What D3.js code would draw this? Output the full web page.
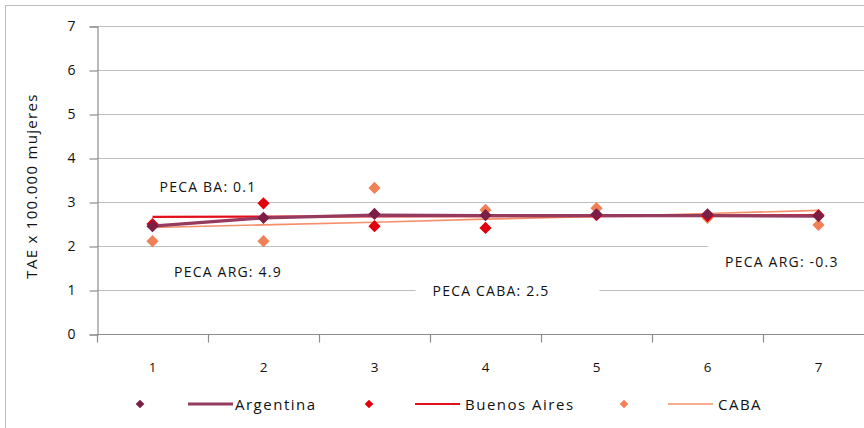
<!DOCTYPE html>
<html>
<head>
<meta charset="utf-8">
<script src="https://cdn.jsdelivr.net/npm/d3@7/dist/d3.min.js"></script>
<style>
  html, body { margin: 0; padding: 0; background: #fff; }
  svg { display: block; font-family: "Open Sans", "DejaVu Sans", sans-serif; }
</style>
</head>
<body>
<svg id="chart" width="864" height="428"></svg>
<script>
// Periods on the x axis
const periods = ["1", "2", "3", "4", "5", "6", "7"];
const yTicks = [0, 1, 2, 3, 4, 5, 6, 7];

// Observed age-standardised rates (TAE x 100.000 mujeres)
const argentinaObs = [2.45, 2.64, 2.73, 2.70, 2.72, 2.72, 2.68];
const buenosAiresObs = [2.50, 2.97, 2.45, 2.41, 2.70, 2.68, 2.70];
const cabaObs = [2.11, 2.11, 3.32, 2.82, 2.86, 2.64, 2.48];

// Fitted trend values (joinpoint)
const argentinaFit = [2.45, 2.64, 2.70, 2.69, 2.69, 2.69, 2.68];
const buenosAiresFit = [2.66, 2.67, 2.67, 2.68, 2.68, 2.69, 2.70];
const cabaFit = [2.42, 2.48, 2.54, 2.61, 2.67, 2.74, 2.81];

// Annual percent change annotations (position in category units / data units)
const pecaLabels = [
  { text: "PECA BA: 0.1", x: 1.5, y: 3.36 },
  { text: "PECA ARG: 4.9", x: 1.68, y: 1.41 },
  { text: "PECA CABA: 2.5", x: 4.05, y: 0.98, padL: 17, padR: 50 },
  { text: "PECA ARG: -0.3", x: 6.67, y: 1.64, padL: 17, padR: 80 }
];

const series = [
  { name: "Argentina", obs: argentinaObs, fit: argentinaFit, marker: "#7B1E45", line: "#963A5E", width: 3.2 },
  { name: "Buenos Aires", obs: buenosAiresObs, fit: buenosAiresFit, marker: "#E2000F", line: "#E3101A", width: 2.2 },
  { name: "CABA", obs: cabaObs, fit: cabaFit, marker: "#F08058", line: "#F3906A", width: 1.6 }
];

const svg = d3.select("#chart");

const x = d3.scaleBand().domain(periods).range([97, 874]);
const y = d3.scaleLinear().domain([0, 7]).range([334, 26]);
const cx = d => x(d) + x.bandwidth() / 2;

// outer frame
svg.append("rect")
  .attr("x", 5.5).attr("y", 5.5).attr("width", 900).attr("height", 440)
  .attr("fill", "none").attr("stroke", "#BDBDBD").attr("stroke-width", 1);

// horizontal gridlines
svg.append("g")
  .selectAll("line")
  .data(yTicks.filter(t => t > 0))
  .join("line")
  .attr("x1", 97).attr("x2", 874)
  .attr("y1", d => Math.round(y(d)) + 0.5).attr("y2", d => Math.round(y(d)) + 0.5)
  .attr("stroke", "#BFBFBF").attr("stroke-width", 1.2);

// y axis
const yAxis = svg.append("g")
  .attr("transform", "translate(97.5,0.5)")
  .call(d3.axisLeft(y).tickValues(yTicks).tickSize(8).tickPadding(14).tickFormat(d3.format("d")));
yAxis.select(".domain").attr("stroke", "#8C8C8C").attr("stroke-width", 1.2);
yAxis.selectAll(".tick line").attr("stroke", "#8C8C8C").attr("stroke-width", 1.2);
yAxis.selectAll(".tick text").attr("font-size", 14).attr("fill", "#111")
  .attr("font-family", "'Open Sans', sans-serif");

// x axis (ticks between categories)
const xAxisG = svg.append("g").attr("transform", "translate(0," + (Math.round(y(0)) + 0.5) + ")");
xAxisG.append("line").attr("x1", 97).attr("x2", 874).attr("stroke", "#8C8C8C").attr("stroke-width", 1.2);
xAxisG.selectAll("line.tk")
  .data(periods)
  .join("line")
  .attr("class", "tk")
  .attr("x1", d => Math.round(x(d)) + 0.5).attr("x2", d => Math.round(x(d)) + 0.5)
  .attr("y1", 0).attr("y2", 8)
  .attr("stroke", "#8C8C8C").attr("stroke-width", 1.2);
xAxisG.selectAll("text")
  .data(periods)
  .join("text")
  .attr("x", d => cx(d)).attr("y", 37)
  .attr("text-anchor", "middle")
  .attr("font-size", 13.5).attr("fill", "#111")
  .text(d => d);

// y axis title
svg.append("text")
  .attr("transform", "translate(37,186) rotate(-90)")
  .attr("text-anchor", "middle")
  .attr("font-size", 15).attr("letter-spacing", 1.3).attr("fill", "#111")
  .text("TAE x 100.000 mujeres");

// trend lines
const line = d3.line().x((d, i) => cx(periods[i])).y(d => y(d));
svg.append("g")
  .selectAll("path")
  .data(series.slice().reverse())
  .join("path")
  .attr("d", s => line(s.fit))
  .attr("fill", "none")
  .attr("stroke", s => s.line)
  .attr("stroke-width", s => s.width);

// observed markers (diamonds)
const diamond = d3.symbol().type(d3.symbolDiamond2).size(95);
series.slice().reverse().forEach(s => {
  svg.append("g")
    .selectAll("path")
    .data(s.obs)
    .join("path")
    .attr("transform", (d, i) => `translate(${cx(periods[i])},${y(d)})`)
    .attr("d", diamond)
    .attr("fill", s.marker);
});

// PECA annotations; some sit on a white box that hides the gridline behind them
pecaLabels.forEach(l => {
  const g = svg.append("g");
  const t = g.append("text")
    .attr("x", cx("1") + (l.x - 1) * x.bandwidth())
    .attr("y", y(l.y))
    .attr("text-anchor", "middle")
    .attr("dominant-baseline", "central")
    .attr("font-size", 14).attr("letter-spacing", 1.2).attr("fill", "#111")
    .text(l.text);
  if (l.padL !== undefined) {
    const b = t.node().getBBox();
    g.insert("rect", "text")
      .attr("x", b.x - l.padL).attr("y", b.y - 8)
      .attr("width", b.width + l.padL + l.padR).attr("height", b.height + 16)
      .attr("fill", "#fff");
  }
});

// legend
const legend = [
  { s: series[0], mx: 140, lx: 188, tx: 235 },
  { s: series[1], mx: 369, lx: 415, tx: 465 },
  { s: series[2], mx: 624, lx: 668, tx: 718 }
];
const legendY = 404;
const legG = svg.append("g");
legend.forEach(e => {
  legG.append("path")
    .attr("transform", `translate(${e.mx},${legendY})`)
    .attr("d", d3.symbol().type(d3.symbolDiamond2).size(48))
    .attr("fill", e.s.marker);
  legG.append("line")
    .attr("x1", e.lx).attr("x2", e.lx + 45)
    .attr("y1", legendY).attr("y2", legendY)
    .attr("stroke", e.s.line).attr("stroke-width", e.s.width);
  legG.append("text")
    .attr("x", e.tx).attr("y", legendY)
    .attr("dominant-baseline", "central")
    .attr("font-size", 15).attr("letter-spacing", 1.5).attr("fill", "#111")
    .text(e.s.name);
});
</script>
</body>
</html>
